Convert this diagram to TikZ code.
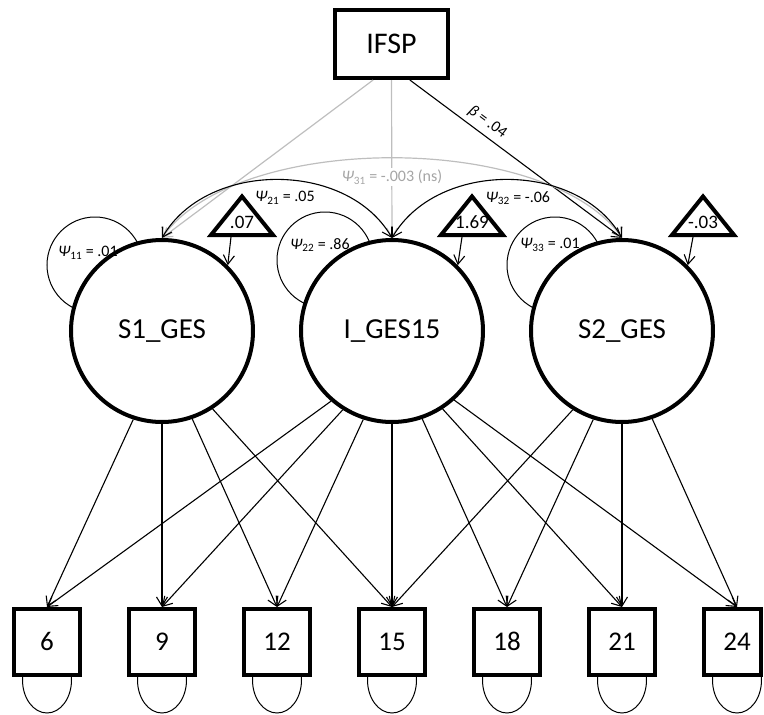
\documentclass[tikz,border=0pt]{standalone}
\usepackage{fontspec}
\setmainfont{Carlito}
\usetikzlibrary{arrows.meta,calc}
\definecolor{lgray}{RGB}{190,190,190}
\definecolor{tgray}{RGB}{165,165,165}
\newcommand{\psilab}[2]{{\itshape Ψ}\textsubscript{#1} = #2}
\begin{document}
\begin{tikzpicture}[x=1pt,y=1pt,>={Straight Barb[length=9pt,width=11pt]},
  latent/.style={circle,draw,line width=4pt,fill=white,minimum size=182pt,inner sep=0pt,font=\fontsize{29}{34}\selectfont},
  obs/.style={rectangle,draw,line width=4pt,fill=white,minimum width=66pt,minimum height=66pt,inner sep=0pt,text height=17pt,text depth=0pt,font=\fontsize{27}{32}\selectfont},
  topbox/.style={rectangle,draw,line width=4pt,fill=white,minimum width=113pt,minimum height=68pt,inner sep=0pt,font=\fontsize{30}{36}\selectfont},
  meanbox/.style={draw,line width=4pt,fill=white,line join=miter},
  meantext/.style={inner sep=0pt,text height=12pt,text depth=0pt,font=\fontsize{19}{22}\selectfont},
  thinline/.style={line width=1.1pt},
  arr/.style={thinline,->},
  darr/.style={thinline,<->},
  garr/.style={line width=1.2pt,draw=lgray,->},
  gdarr/.style={line width=1.2pt,draw=lgray,<->},
  lab/.style={inner sep=1pt,font=\fontsize{16}{19}\selectfont},
  loopline/.style={line width=1pt}]

\useasboundingbox (0,0) rectangle (764,-715);

% latent centres
\coordinate (cS1) at (162,-331);
\coordinate (cI) at (392,-331);
\coordinate (cS2) at (622,-331);

% variance loops
\draw[loopline] ($(cS1)+(-67,66)$) circle (48);
\draw[loopline] ($(cI)+(-67,71)$) circle (48);
\draw[loopline] ($(cS2)+(-67,66)$) circle (48);

% residual loops
\foreach \x in {47,162,277,392,507,622,737}
  \draw[loopline] (\x,-680) ellipse [x radius=24.5,y radius=33];

% nodes
\node[topbox] (IFSP) at (391.5,-44) {IFSP};
\node[latent] (S1) at (cS1) {S1\_GES};
\node[latent] (I) at (cI) {I\_GES15};
\node[latent] (S2) at (cS2) {S2\_GES};
\node[obs] (b6) at (47,-642) {6};
\node[obs] (b9) at (162,-642) {9};
\node[obs] (b12) at (277,-642) {12};
\node[obs] (b15) at (392,-642) {15};
\node[obs] (b18) at (507,-642) {18};
\node[obs] (b21) at (622,-642) {21};
\node[obs,draw=none] (b24) at (737,-642) {24};
\draw[line width=4pt] (704,-609) rectangle (761,-675);

% mean triangles
\draw[meanbox] (242,-196.5) -- (273,-235) -- (211,-235) -- cycle;
\node[meantext] (m1) at (242,-222) {.07};
\draw[meanbox] (472,-196.5) -- (503,-235) -- (441,-235) -- cycle;
\node[meantext] (m2) at (472,-222) {1.69};
\draw[meanbox] (703,-196.5) -- (734,-235) -- (672,-235) -- cycle;
\node[meantext] (m3) at (703,-222) {-.03};
\coordinate (t1) at (231,-237);
\coordinate (t2) at (462,-237);
\coordinate (t3) at (693,-237);
\draw[arr] (t1) -- (S1.45);
\draw[arr] (t2) -- (I.45);
\draw[arr] (t3) -- (S2.45);

% IFSP paths
\draw[garr] (IFSP.-117) -- (S1.north);
\draw[garr] (IFSP.south) -- (I.north);
\draw[arr] (IFSP.-63) -- (S2.north);
\node[lab,rotate=-36.7] (beta) at (487.5,-122) {{\itshape β} = .04};

% covariances
\draw[gdarr] (S1.north) to[out=55,in=125,looseness=0.725] (S2.north);
\draw[darr] (S1.north) to[out=60,in=120] (I.north);
\draw[darr] (I.north) to[out=60,in=120] (S2.north);

% labels
\node[lab,text=tgray,fill=white,inner sep=2pt] (p31) at (392,-177) {\psilab{31}{-.003 (ns)}};
\node[lab] (p21) at (285,-198) {\psilab{21}{.05}};
\node[lab] (p32) at (518,-198) {\psilab{32}{-.06}};
\node[lab] (p11) at (88,-253) {\psilab{11}{.01}};
\node[lab] (p22) at (320,-245) {\psilab{22}{.86}};
\node[lab] (p33) at (550,-245) {\psilab{33}{.01}};

% loadings
\foreach \a/\b in {-108.4/b6,-90/b9,-71.6/b12,-57.6/b15}
  \draw[arr] (S1.\a) -- (\b.north);
\foreach \a/\b in {-131.8/b6,-122.4/b9,-108.4/b12,-90/b15,-71.6/b18,-57.6/b21,-48.2/b24}
  \draw[arr] (I.\a) -- (\b.north);
\foreach \a/\b in {-122.4/b15,-108.4/b18,-90/b21,-71.6/b24}
  \draw[arr] (S2.\a) -- (\b.north);
\end{tikzpicture}
\end{document}
